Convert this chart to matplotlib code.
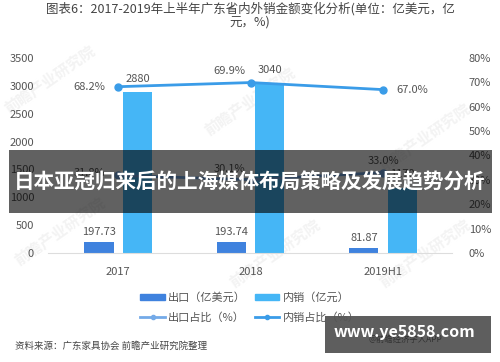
import matplotlib.pyplot as plt
import matplotlib.patches as mpatches
from matplotlib.lines import Line2D
import numpy as np

plt.rcParams['font.family'] = ['Noto Sans CJK SC', 'DejaVu Sans']

years = ['2017', '2018', '2019H1']
export_usd = [197.73, 193.74, 81.87]      # 出口（亿美元）
domestic_cny = [2880, 3040, 1170]         # 内销（亿元）
export_share = [31.8, 30.1, 33.0]         # 出口占比（%）
domestic_share = [68.2, 69.9, 67.0]       # 内销占比（%）

c_exp = '#3f82de'
c_dom = '#45b6f6'
c_exp_line = '#74aae8'
c_dom_line = '#3a9ce8'
txt = '#555555'

fig = plt.figure(figsize=(5, 3.62), dpi=100)

# faint watermarks behind everything
for wx, wy in [(0.1, 0.78), (0.5, 0.72), (0.85, 0.62), (0.12, 0.36), (0.55, 0.3), (0.85, 0.3)]:
    fig.text(wx, wy, '前瞻产业研究院', fontsize=11, color='#f3f3f3', rotation=35,
             ha='center', va='center', fontweight='bold', zorder=-5)

ax = fig.add_axes([0.096, 0.301, 0.808, 0.539])
ax2 = ax.twinx()
ax.patch.set_alpha(0)
ax2.patch.set_alpha(0)

x = np.arange(len(years))
w = 0.22
ax.bar(x - 0.145, export_usd, w, color=c_exp, zorder=2)
ax.bar(x + 0.145, domestic_cny, w, color=c_dom, zorder=2)

ax.set_ylim(0, 3500)
ax.set_yticks(np.arange(0, 3501, 500))
ax.set_xlim(-0.53, 2.52)
ax.set_xticks(x)
ax.set_xticklabels(years)
ax2.set_ylim(0, 80)
ax2.set_yticks(np.arange(0, 81, 10))
ax2.set_yticklabels([f'{v}%' for v in range(0, 81, 10)])

for a in (ax, ax2):
    for s in a.spines.values():
        s.set_visible(False)
    a.tick_params(length=0, labelsize=8, labelcolor=txt)
ax.spines['bottom'].set_visible(True)
ax.spines['bottom'].set_color('#dddddd')
ax.tick_params(axis='x', pad=10)
ax.tick_params(axis='y', pad=10)
ax2.tick_params(axis='y', pad=12)

ax2.plot(x, export_share, color=c_exp_line, lw=2, marker='o', ms=5, zorder=3)
ax2.plot(x, domestic_share, color=c_dom_line, lw=2, marker='o', ms=5, zorder=3)

for i in range(3):
    ax.text(x[i] - 0.145, export_usd[i] + 90, f'{export_usd[i]:.2f}', ha='center',
            va='bottom', fontsize=8, color=txt)
    ax.text(x[i] + 0.145, domestic_cny[i] + 150, f'{domestic_cny[i]}', ha='center',
            va='bottom', fontsize=8, color=txt)

ax2.text(x[0] - 0.1, domestic_share[0], f'{domestic_share[0]}%', ha='right', va='center', fontsize=8, color=txt)
ax2.text(x[1] - 0.16, domestic_share[1] + 2.5, f'{domestic_share[1]}%', ha='center', va='bottom', fontsize=8, color=txt)
ax2.text(x[2] + 0.1, domestic_share[2], f'{domestic_share[2]}%', ha='left', va='center', fontsize=8, color=txt)
ax2.text(x[0] - 0.1, export_share[0] + 1, f'{export_share[0]}%', ha='right', va='center', fontsize=8, color=txt)
ax2.text(x[1] - 0.16, export_share[1] + 2.5, f'{export_share[1]}%', ha='center', va='bottom', fontsize=8, color=txt)
ax2.text(x[2], export_share[2] + 2.5, f'{export_share[2]:.1f}%', ha='center', va='bottom', fontsize=8, color=txt)

fig.text(0.5, 0.958, '图表6：2017-2019年上半年广东省内外销金额变化分析(单位：亿美元，亿\n元，%)',
         ha='center', va='center', fontsize=9, color='#444444', linespacing=1.0)

handles = [mpatches.Patch(color=c_exp, label='出口（亿美元）'),
           Line2D([], [], color=c_exp_line, lw=2, marker='o', ms=3, label='出口占比（%）'),
           mpatches.Patch(color=c_dom, label='内销（亿元）'),
           Line2D([], [], color=c_dom_line, lw=2, marker='o', ms=3, label='内销占比（%）')]
fig.legend(handles=handles, ncol=2, loc='center', bbox_to_anchor=(0.5, 0.15), frameon=False,
           fontsize=8, labelcolor=txt, handlelength=2.2, handleheight=0.5,
           columnspacing=0.8, handletextpad=0.3, labelspacing=0.8)

fig.text(0.03, 0.045, '资料来源：广东家具协会 前瞻产业研究院整理', fontsize=6.8,
         color='#444444', style='italic', ha='left', va='center')

# overlay banner
fig.patches.append(mpatches.Rectangle((0.018, 0.412), 0.966, 0.174, transform=fig.transFigure,
                                      facecolor='black', alpha=0.62, zorder=5))
fig.text(0.5, 0.497, '日本亚冠归来后的上海媒体布局策略及发展趋势分析', ha='center', va='center',
         fontsize=14.8, color='white', fontweight='bold', zorder=6)

fig.patches.append(mpatches.Rectangle((0.65, 0.025), 0.332, 0.102, transform=fig.transFigure,
                                      facecolor='#555555', alpha=0.95, zorder=5))
fig.text(0.81, 0.062, '@前瞻经济学人APP', ha='center', va='center', fontsize=6, color='#333333', zorder=6)
fig.text(0.808, 0.083, 'www.ye5858.com', ha='center', va='center', fontsize=11.5,
         color='white', fontweight='bold', zorder=7)

fig.savefig('out.png', dpi=100)
